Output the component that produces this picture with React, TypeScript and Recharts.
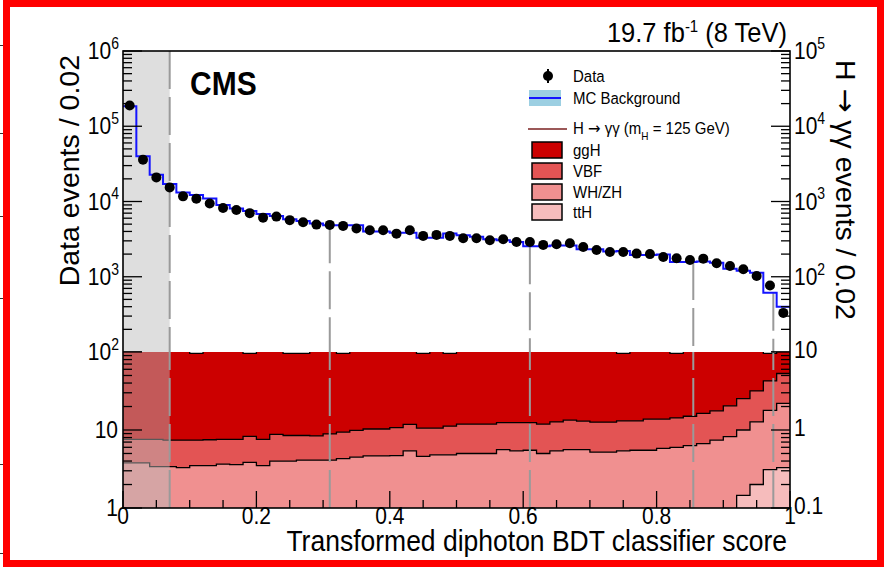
import React from 'react';
import {
  ComposedChart,
  Line,
  Scatter,
  Area,
  XAxis,
  YAxis,
  ReferenceArea,
  ReferenceLine,
} from 'recharts';

const FONT = '"Liberation Sans", Arial, Helvetica, sans-serif';
const ARROW_FONT = '"DejaVu Sans", sans-serif';
const SY = 1.12; // lettering in the original is a little taller than wide

// pad frame in page pixels
const PLOT_LEFT = 123;
const PLOT_RIGHT = 790;
const PLOT_TOP = 51;
const PAD_SPLIT = 352;
const PLOT_BOTTOM = 508;

const BIN_WIDTH = 0.02;

// Data events / 0.02, one entry per bin (0.00-0.02 ... 0.98-1.00)
const DATA_EVENTS = [
  189000, 36000, 20900, 15400, 11700, 10900, 9400, 8200, 7700, 7000,
  6100, 6300, 5650, 5300, 4930, 4890, 4740, 4370, 4150, 4150,
  3740, 4150, 3490, 3600, 3490, 3250, 3240, 3060, 3150, 2900,
  2900, 2650, 2700, 2790, 2490, 2270, 2130, 2130, 2030, 2000,
  1830, 1760, 1670, 1740, 1510, 1390, 1255, 1024, 767, 331,
];

const MC_BACKGROUND = [
  185000, 39800, 22700, 17100, 13200, 12200, 11000, 8960, 8070, 7500,
  6800, 6400, 5800, 5500, 5100, 4850, 4850, 4850, 3980, 3980,
  3850, 3850, 3310, 3310, 3750, 3560, 3400, 3150, 3060, 2900,
  2550, 2550, 2600, 2600, 2320, 2320, 2170, 2200, 1950, 1950,
  1980, 1570, 1570, 1600, 1540, 1280, 1200, 1130, 612, 398,
];

// H -> gamma gamma events / 0.02 per production mode
const SIG_GGH = [
  9.7, 9.7, 9.8, 9.8, 9.9, 8.85, 9.8, 9.7, 9.8, 8.8,
  9.7, 9.7, 8.75, 8.75, 9.6, 9.6, 8.65, 9.5, 9.5, 9.4,
  9.4, 9.3, 8.55, 9.4, 8.5, 9.3, 9.4, 9.3, 9.2, 9.3,
  9.2, 9.3, 9.2, 9.1, 9.2, 9.3, 9.2, 8.3, 9.2, 9.1,
  9.1, 8.15, 9.0, 8.9, 8.8, 8.5, 8.0, 7.4, 5.35, 5.6,
];
const SIG_VBF = [
  0.38, 0.38, 0.42, 0.40, 0.41, 0.39, 0.40, 0.395, 0.40, 0.445,
  0.41, 0.48, 0.45, 0.44, 0.43, 0.48, 0.51, 0.54, 0.565, 0.565,
  0.60, 0.64, 0.60, 0.58, 0.64, 0.69, 0.69, 0.69, 0.68, 0.70,
  0.69, 0.69, 0.73, 0.78, 0.74, 0.74, 0.74, 0.77, 0.76, 0.83,
  0.80, 0.83, 0.87, 0.96, 1.02, 1.22, 1.53, 1.90, 2.47, 3.1,
];
const SIG_WHZH = [
  0.35, 0.35, 0.31, 0.31, 0.30, 0.32, 0.32, 0.335, 0.33, 0.355,
  0.32, 0.365, 0.365, 0.375, 0.375, 0.375, 0.395, 0.415, 0.425, 0.425,
  0.43, 0.50, 0.42, 0.44, 0.44, 0.46, 0.455, 0.455, 0.515, 0.495,
  0.505, 0.455, 0.49, 0.51, 0.51, 0.47, 0.465, 0.485, 0.495, 0.49,
  0.52, 0.535, 0.56, 0.595, 0.66, 0.73, 0.855, 1.07, 1.48, 1.87,
];
const SIG_TTH = [
  0.03, 0.03, 0.03, 0.03, 0.03, 0.03, 0.03, 0.03, 0.03, 0.03,
  0.03, 0.035, 0.035, 0.035, 0.035, 0.035, 0.035, 0.035, 0.04, 0.04,
  0.04, 0.04, 0.04, 0.04, 0.04, 0.04, 0.045, 0.045, 0.045, 0.045,
  0.045, 0.045, 0.05, 0.05, 0.05, 0.05, 0.055, 0.055, 0.055, 0.06,
  0.06, 0.065, 0.07, 0.075, 0.08, 0.09, 0.145, 0.2, 0.31, 0.33,
];

const CATEGORY_BOUNDARIES = [0.07, 0.31, 0.61, 0.855, 0.975];
const EXCLUDED_UPTO = 0.07;

const UPPER_DECADES = [1e2, 1e3, 1e4, 1e5, 1e6];
const LOWER_DECADES = [0.1, 1, 10];
const X_TICKS = [0, 0.05, 0.1, 0.15, 0.2, 0.25, 0.3, 0.35, 0.4, 0.45, 0.5, 0.55, 0.6, 0.65, 0.7, 0.75, 0.8, 0.85, 0.9, 0.95, 1];

const COLORS = {
  ggH: '#cc0000',
  VBF: '#e35454',
  WHZH: '#f09090',
  ttH: '#f6bcbc',
  mc: '#1414ff',
  band: '#9ccfe2',
  boundary: '#9a9a9a',
};

const withMinors = (decades: number[]) => {
  const out: number[] = [];
  decades.forEach((d, i) => {
    out.push(d);
    if (i < decades.length - 1) for (let k = 2; k <= 9; k++) out.push(d * k);
  });
  return out;
};

const isDecade = (v: number) => {
  const e = Math.round(Math.log10(v));
  return Math.abs(v - Math.pow(10, e)) < 1e-6 * v;
};

const dataPoints = DATA_EVENTS.map((v, i) => ({ x: (i + 0.5) * BIN_WIDTH, y: v }));
const mcRows = MC_BACKGROUND.map((v, i) => ({ x: i * BIN_WIDTH, mc: v })).concat([
  { x: 1, mc: MC_BACKGROUND[MC_BACKGROUND.length - 1] },
]);
const signalRows = Array.from({ length: SIG_GGH.length + 1 }, (_, i) => {
  const j = Math.min(i, SIG_GGH.length - 1);
  const tth = SIG_TTH[j];
  const wh = tth + SIG_WHZH[j];
  const vbf = wh + SIG_VBF[j];
  const ggh = vbf + SIG_GGH[j];
  return { x: i * BIN_WIDTH, tth, wh, vbf, ggh };
});
const mcAt = (x: number) => MC_BACKGROUND[Math.min(Math.floor(x / BIN_WIDTH), MC_BACKGROUND.length - 1)];

function Txt({ x, y, size, anchor = 'start', weight, children }: any) {
  return (
    <text
      transform={`translate(${x},${y}) scale(1,${SY})`}
      fontSize={size}
      fontFamily={FONT}
      fontWeight={weight}
      textAnchor={anchor}
      fill="#000"
    >
      {children}
    </text>
  );
}

function TickText({ x, y, text, sup, anchor }: any) {
  return (
    <Txt x={x} y={y + 8} size={21} anchor={anchor}>
      {text}
      {sup && (
        <tspan dy={-9} fontSize={14}>
          {sup}
        </tspan>
      )}
    </Txt>
  );
}

const UpperTick = (props: any) => {
  const { y, payload } = props;
  const v = payload.value;
  const major = isDecade(v);
  const exp = Math.round(Math.log10(v));
  const len = major ? 19 : 9;
  return (
    <g>
      <line x1={PLOT_LEFT} x2={PLOT_LEFT + len} y1={y} y2={y} stroke="#000" strokeWidth={1.3} />
      <line x1={PLOT_RIGHT} x2={PLOT_RIGHT - len} y1={y} y2={y} stroke="#000" strokeWidth={1.3} />
      {major && exp > 2 && <TickText x={PLOT_LEFT - 4} y={y} text="10" sup={String(exp)} anchor="end" />}
      {major && exp > 2 && <TickText x={PLOT_RIGHT + 4} y={y} text="10" sup={String(exp - 1)} anchor="start" />}
    </g>
  );
};

const LowerTick = (props: any) => {
  const { y, payload } = props;
  const v = payload.value;
  const major = isDecade(v);
  const len = major ? 19 : 9;
  const left = Math.round(v * 10);
  return (
    <g>
      <line x1={PLOT_LEFT} x2={PLOT_LEFT + len} y1={y} y2={y} stroke="#000" strokeWidth={1.3} />
      <line x1={PLOT_RIGHT} x2={PLOT_RIGHT - len} y1={y} y2={y} stroke="#000" strokeWidth={1.3} />
      {major && left < 100 && <TickText x={PLOT_LEFT - 5} y={y} text={String(left)} anchor="end" />}
      {major && left === 100 && <TickText x={PLOT_LEFT - 4} y={y} text="10" sup="2" anchor="end" />}
      {major && <TickText x={PLOT_RIGHT + 4} y={y - 2} text={String(v)} anchor="start" />}
    </g>
  );
};

const XTick = (props: any) => {
  const { x, payload } = props;
  const v = payload.value;
  const major = Math.abs(v * 5 - Math.round(v * 5)) < 1e-6;
  const label = v === 0 ? '0' : v === 1 ? '1' : v.toFixed(1);
  return (
    <g>
      <line x1={x} x2={x} y1={PLOT_BOTTOM} y2={PLOT_BOTTOM - (major ? 17 : 8)} stroke="#000" strokeWidth={1.3} />
      {major && (
        <Txt x={x} y={PLOT_BOTTOM + 16} size={21} anchor="middle">
          {label}
        </Txt>
      )}
    </g>
  );
};

const dot = (p: any) => <circle cx={p.cx} cy={p.cy} r={5} fill="#000" />;

const Arrow = () => <tspan fontFamily={ARROW_FONT}>→</tspan>;

function Legend() {
  const boxes = [
    { label: 'ggH', color: COLORS.ggH, y: 142 },
    { label: 'VBF', color: COLORS.VBF, y: 163 },
    { label: 'WH/ZH', color: COLORS.WHZH, y: 184 },
    { label: 'ttH', color: COLORS.ttH, y: 204 },
  ];
  return (
    <g>
      <line x1={548} x2={548} y1={69} y2={83} stroke="#000" strokeWidth={2} />
      <circle cx={548} cy={76} r={5} fill="#000" />
      <Txt x={573} y={82} size={15}>Data</Txt>

      <rect x={529} y={90} width={32} height={16} fill={COLORS.band} />
      <line x1={529} x2={561} y1={98} y2={98} stroke={COLORS.mc} strokeWidth={2} />
      <Txt x={573} y={104} size={15}>MC Background</Txt>

      <line x1={528} x2={567} y1={129} y2={129} stroke="#7a2020" strokeWidth={1.5} />
      <Txt x={573} y={134} size={15}>
        H <Arrow /> γγ (m
        <tspan dy={5} fontSize={10}>H</tspan>
        <tspan dy={-5}> = 125 GeV)</tspan>
      </Txt>

      {boxes.map((b) => (
        <g key={b.label}>
          <rect x={532} y={b.y} width={30} height={16} fill={b.color} stroke="#000" strokeWidth={1.5} />
          <Txt x={573} y={b.y + 14} size={15}>{b.label}</Txt>
        </g>
      ))}
    </g>
  );
}

export default function App() {
  const pageMarks = [45, 133, 216, 298, 464, 553];
  return (
    <div style={{ position: 'absolute', left: 0, top: 0, width: 884, height: 567, background: '#fff', overflow: 'hidden' }}>
      {pageMarks.map((y) => (
        <div key={y} style={{ position: 'absolute', left: 0, top: y, width: 3, height: 1, background: '#333' }} />
      ))}

      {/* upper pad: data and background */}
      <div style={{ position: 'absolute', left: 0, top: 0 }}>
        <ComposedChart width={884} height={PAD_SPLIT} margin={{ top: PLOT_TOP, right: 884 - PLOT_RIGHT, bottom: 0, left: PLOT_LEFT - 60 }}>
          <XAxis dataKey="x" type="number" domain={[0, 1]} allowDataOverflow hide />
          <YAxis
            type="number"
            scale="log"
            domain={[1e2, 1e6]}
            allowDataOverflow
            width={60}
            ticks={withMinors(UPPER_DECADES)}
            interval={0}
            tick={<UpperTick />}
            tickLine={false}
            axisLine={false}
          />
          <ReferenceArea x1={0} x2={EXCLUDED_UPTO} fill="#bbbbbb" fillOpacity={0.48} stroke="none" zIndex={-50} />
          {CATEGORY_BOUNDARIES.map((b) => (
            <ReferenceLine
              key={b}
              segment={[{ x: b, y: b <= EXCLUDED_UPTO ? 1e6 : mcAt(b) }, { x: b, y: 1e2 }]}
              stroke={COLORS.boundary}
              strokeWidth={2}
              strokeDasharray="38 8"
            />
          ))}
          <Line
            data={mcRows}
            dataKey="mc"
            type="stepAfter"
            stroke={COLORS.mc}
            strokeWidth={2}
            dot={false}
            isAnimationActive={false}
          />
          <Scatter data={dataPoints} dataKey="y" shape={dot} isAnimationActive={false} />
        </ComposedChart>
      </div>

      {/* lower pad: stacked signal */}
      <div style={{ position: 'absolute', left: 0, top: 0 }}>
        <ComposedChart
          width={884}
          height={567}
          data={signalRows}
          margin={{ top: PAD_SPLIT, right: 884 - PLOT_RIGHT, bottom: 567 - PLOT_BOTTOM - 40, left: PLOT_LEFT - 60 }}
        >
          <XAxis
            dataKey="x"
            type="number"
            domain={[0, 1]}
            allowDataOverflow
            ticks={X_TICKS}
            interval={0}
            height={40}
            tick={<XTick />}
            tickLine={false}
            axisLine={false}
          />
          <YAxis
            type="number"
            scale="log"
            domain={[0.1, 10]}
            allowDataOverflow
            width={60}
            ticks={withMinors(LOWER_DECADES)}
            interval={0}
            tick={<LowerTick />}
            tickLine={false}
            axisLine={false}
          />
          <Area dataKey="ggh" type="stepAfter" baseValue={0.1} fill={COLORS.ggH} fillOpacity={1} stroke="#000" strokeWidth={1.3} isAnimationActive={false} />
          <Area dataKey="vbf" type="stepAfter" baseValue={0.1} fill={COLORS.VBF} fillOpacity={1} stroke="#000" strokeWidth={1.3} isAnimationActive={false} />
          <Area dataKey="wh" type="stepAfter" baseValue={0.1} fill={COLORS.WHZH} fillOpacity={1} stroke="#000" strokeWidth={1.3} isAnimationActive={false} />
          <Area dataKey="tth" type="stepAfter" baseValue={0.1} fill={COLORS.ttH} fillOpacity={1} stroke="#000" strokeWidth={1.3} isAnimationActive={false} />
          <ReferenceArea x1={0} x2={EXCLUDED_UPTO} fill="#bbbbbb" fillOpacity={0.48} stroke="none" zIndex={150} />
          {CATEGORY_BOUNDARIES.map((b) => (
            <ReferenceLine key={b} x={b} stroke={COLORS.boundary} strokeWidth={2} strokeDasharray="38 8" zIndex={160} />
          ))}
        </ComposedChart>
      </div>

      {/* frame, titles and legend */}
      <svg width={884} height={567} style={{ position: 'absolute', left: 0, top: 0, pointerEvents: 'none' }}>
        <rect
          x={PLOT_LEFT}
          y={PLOT_TOP}
          width={PLOT_RIGHT - PLOT_LEFT}
          height={PLOT_BOTTOM - PLOT_TOP}
          fill="none"
          stroke="#000"
          strokeWidth={1.6}
        />
        <Txt x={787} y={42} size={25.5} anchor="end">
          19.7 fb
          <tspan dy={-9} fontSize={15}>-1</tspan>
          <tspan dy={9}> (8 TeV)</tspan>
        </Txt>
        <Txt x={190} y={95} size={30} weight="bold">CMS</Txt>
        <Txt x={787} y={551} size={26.5} anchor="end">Transformed diphoton BDT classifier score</Txt>
        <text
          transform="translate(79,55) rotate(-90)"
          fontSize={28.5}
          fontFamily={FONT}
          textAnchor="end"
          fill="#000"
        >
          Data events / 0.02
        </text>
        <text
          transform="translate(836,60) rotate(90)"
          fontSize={28.5}
          fontFamily={FONT}
          textAnchor="start"
          fill="#000"
        >
          H <Arrow /> γγ events / 0.02
        </text>
        <Legend />
      </svg>

      <div
        style={{
          position: 'absolute',
          left: 3,
          top: 0,
          width: 881,
          height: 567,
          border: '7px solid #ff0000',
          boxSizing: 'border-box',
          pointerEvents: 'none',
        }}
      />
    </div>
  );
}
